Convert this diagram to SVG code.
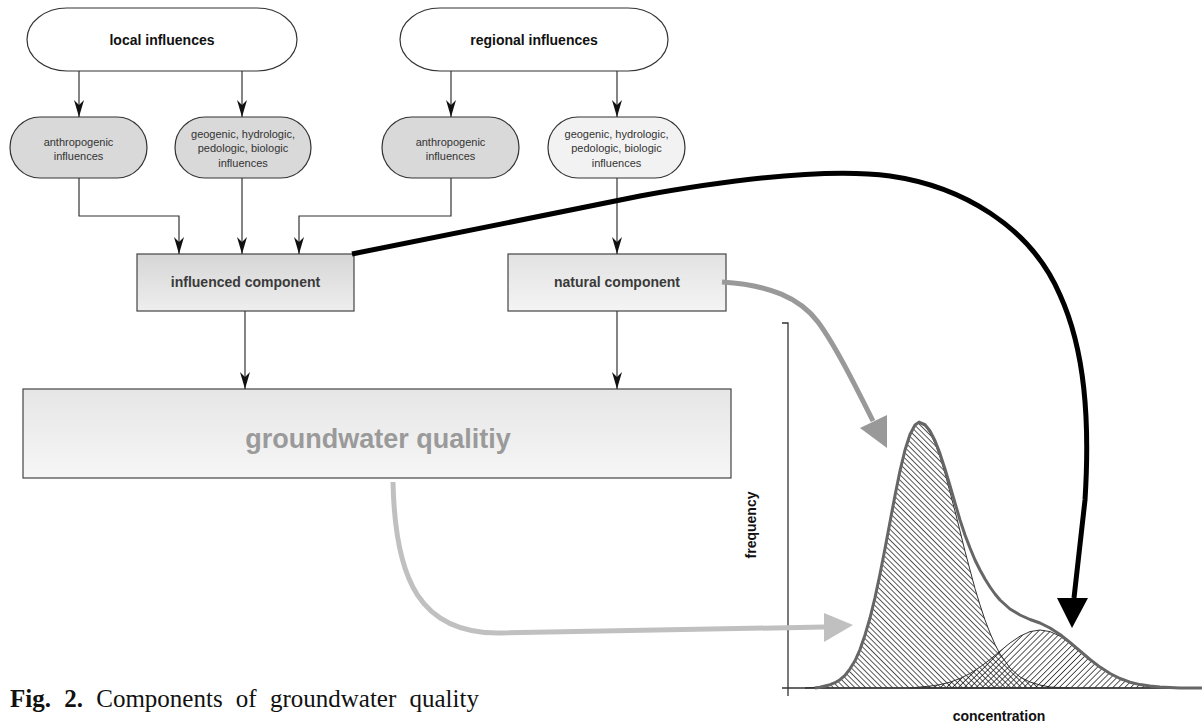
<svg xmlns="http://www.w3.org/2000/svg" width="1202" height="726" viewBox="0 0 1202 726">
<style>
.stad{stroke:#333;stroke-width:1.2}
.box{stroke:#444;stroke-width:1.2}
.t1{font-family:"Liberation Sans",Arial,sans-serif;font-weight:bold;font-size:14px;fill:#111;text-anchor:middle}
.t2{font-family:"Liberation Sans",Arial,sans-serif;font-size:11px;fill:#333;text-anchor:middle}
.t3{font-family:"Liberation Sans",Arial,sans-serif;font-weight:bold;font-size:14px;fill:#3a3a3a;text-anchor:middle}
.ax{font-family:"Liberation Sans",Arial,sans-serif;font-weight:bold;font-size:14px;fill:#111;text-anchor:middle}
.conn{fill:none;stroke:#333;stroke-width:1.2;marker-end:url(#ah)}
.cap{font-family:"Liberation Serif","Times New Roman",serif;font-size:25px;fill:#111;word-spacing:7px}
</style>
<defs>
<marker id="ah" markerUnits="userSpaceOnUse" markerWidth="18" markerHeight="12" viewBox="0 0 18 12" refX="17" refY="6" orient="auto">
<path d="M0,1 L17,6 L0,11 L5,6 Z" fill="#111"/>
</marker>
<linearGradient id="gInf" x1="0" y1="0" x2="0" y2="1"><stop offset="0" stop-color="#d6d6d6"/><stop offset="1" stop-color="#eeeeee"/></linearGradient>
<linearGradient id="gNat" x1="0" y1="0" x2="0" y2="1"><stop offset="0" stop-color="#e2e2e2"/><stop offset="1" stop-color="#f4f4f4"/></linearGradient>
<linearGradient id="gGW" x1="0" y1="0" x2="0" y2="1"><stop offset="0" stop-color="#e6e6e6"/><stop offset="1" stop-color="#f6f6f6"/></linearGradient>
<pattern id="hatchB" patternUnits="userSpaceOnUse" width="3.8" height="3.8" patternTransform="rotate(-45)">
<line x1="0" y1="-1" x2="0" y2="5" stroke="#000" stroke-width="1.3"/>
</pattern>
<pattern id="hatchF" patternUnits="userSpaceOnUse" width="4.2" height="4.2" patternTransform="rotate(45)">
<line x1="0" y1="-1" x2="0" y2="6" stroke="#000" stroke-width="1.3"/>
</pattern>
</defs>
<rect width="1202" height="726" fill="#fff"/>

<g id="local-influences">
<rect class="stad" x="27" y="8" width="270" height="63" rx="40" ry="31.5" fill="#fff"/>
<text class="t1" x="162" y="45">local influences</text>
</g>
<g id="regional-influences">
<rect class="stad" x="400" y="8" width="268" height="63" rx="40" ry="31.5" fill="#fff"/>
<text class="t1" x="534" y="45">regional influences</text>
</g>
<g id="local-anthropogenic">
<rect class="stad" x="10" y="117" width="137" height="61" rx="30" ry="30.5" fill="#d9d9d9"/>
<text class="t2" x="78.5" y="145.5">anthropogenic</text>
<text class="t2" x="78.5" y="160">influences</text>
</g>
<g id="local-geogenic">
<rect class="stad" x="175" y="117" width="136" height="61" rx="30" ry="30.5" fill="#d9d9d9"/>
<text class="t2" x="243" y="137.5">geogenic, hydrologic,</text>
<text class="t2" x="243" y="152">pedologic, biologic</text>
<text class="t2" x="243" y="166.5">influences</text>
</g>
<g id="regional-anthropogenic">
<rect class="stad" x="382" y="117" width="137" height="61" rx="30" ry="30.5" fill="#d9d9d9"/>
<text class="t2" x="450.5" y="145.5">anthropogenic</text>
<text class="t2" x="450.5" y="160">influences</text>
</g>
<g id="regional-geogenic">
<rect class="stad" x="548" y="117" width="137" height="61" rx="30" ry="30.5" fill="#f2f2f2"/>
<text class="t2" x="616.5" y="137.5">geogenic, hydrologic,</text>
<text class="t2" x="616.5" y="152">pedologic, biologic</text>
<text class="t2" x="616.5" y="166.5">influences</text>
</g>
<g id="influenced-component">
<rect class="box" x="137" y="254" width="217" height="57" fill="url(#gInf)"/>
<text class="t3" x="245.5" y="287">influenced component</text>
</g>
<g id="natural-component">
<rect class="box" x="508" y="254" width="218" height="57" fill="url(#gNat)"/>
<text class="t3" x="617" y="287">natural component</text>
</g>
<g id="groundwater-quality">
<rect class="box" x="23" y="389" width="708" height="89" fill="url(#gGW)"/>
<text x="378" y="448" font-family="'Liberation Sans',Arial,sans-serif" font-weight="bold" font-size="27px" fill="#9a9a9a" text-anchor="middle">groundwater qualitiy</text>
</g>

<g id="chart">
<path d="M805 688 L820 687 L825 686 L830 685 L835 682.7 L840 680 L845 675.4 L850 669 L855 660.8 L860 650 L865 635.5 L870 618 L875 597.6 L880 574 L885 548.6 L890 522 L895 495.5 L900 471 L905 450 L910 435 L915 425.4 L919 423 L925 426 L930 433 L935 443.4 L940 457 L945 473.4 L950 492 L955 511.2 L960 531 L965 551.2 L970 570 L975 588.6 L980 605 L985 620 L990 633 L995 644.4 L1000 654 L1010 668 L1020 677 L1030 682 L1040 685 L1050 687 L1060 687.5 L1070 688 Z" fill="url(#hatchB)" stroke="#333" stroke-width="1"/>
<path d="M910 688 L920 687 L930 686.1 L940 684.6 L950 682.2 L960 678.5 L970 673.5 L980 667.1 L990 659.5 L1000 651.2 L1010 643 L1020 636.2 L1030 631.6 L1040 630 L1050 631.6 L1060 636.2 L1070 643 L1080 651.2 L1090 659.5 L1100 667.1 L1110 673.5 L1120 678.5 L1130 682.2 L1140 684.6 L1150 686.1 L1160 687 L1170 687.5 L1180 688 Z" fill="url(#hatchF)" stroke="#333" stroke-width="1"/>
<line x1="782" y1="688" x2="1202" y2="688" stroke="#333" stroke-width="1.5"/>
<polyline points="782,323 788,323 788,696" fill="none" stroke="#333" stroke-width="1.3"/>
<path d="M815 688 L820 687.2 L825 686 L830 684.7 L835 682.7 L840 679.7 L845 675.4 L850 668.8 L855 660.8 L860 649.5 L865 635 L870 618 L875 597.6 L880 574 L885 548.6 L890 522 L895 495.5 L900 470.8 L905 450 L910 434.5 L915 425 L919 422.1 L925 424.6 L930 430.9 L935 440.8 L940 453.6 L945 468.9 L950 485.8 L955 503 L960 520 L965 535 L970 548 L975 560 L980 570 L985 579 L990 587 L995 594 L1000 600 L1010 609 L1020 615 L1030 619.5 L1040 623 L1050 628 L1060 634.5 L1070 642.5 L1080 651 L1090 659.5 L1100 667.1 L1110 673.5 L1120 678.5 L1130 682.2 L1140 684.6 L1150 686.1 L1160 687 L1170 687.6 L1180 688 L1202 688" fill="none" stroke="#666" stroke-width="3" stroke-linejoin="round"/>
<text class="ax" transform="translate(756,525) rotate(-90)">frequency</text>
<text class="ax" x="999" y="721">concentration</text>
</g>

<g id="connectors">
<path class="conn" d="M79 71 V117"/>
<path class="conn" d="M242 71 V117"/>
<path class="conn" d="M451 71 V117"/>
<path class="conn" d="M617 71 V117"/>
<path class="conn" d="M79 178 V216 H179 V254"/>
<path class="conn" d="M242 178 V254"/>
<path class="conn" d="M451 178 V216 H299 V254"/>
<path class="conn" d="M617 178 V254"/>
<path class="conn" d="M245 311 V389"/>
<path class="conn" d="M617 311 V389"/>
<path d="M393 482 C395 580 420 634 500 633 L824 627" fill="none" stroke="#c0c0c0" stroke-width="5"/>
<polygon points="824,613 853,625 824,642" fill="#c0c0c0"/>
<path d="M722 282 C770 285 800 298 818 322 C835 345 855 385 873 421" fill="none" stroke="#999" stroke-width="5"/>
<polygon points="860,428 887,415 887,448" fill="#999"/>
<path d="M352 254 L640 196 C740 178 830 168 890 176 C960 186 1030 225 1060 295 C1085 350 1090 420 1085 500 L1074 598" fill="none" stroke="#000" stroke-width="5"/>
<polygon points="1057,598 1088,598 1072,628" fill="#000"/>
</g>

<g id="caption">
<text class="cap" x="10" y="707"><tspan font-weight="bold">Fig. 2.</tspan> Components of groundwater quality</text>
</g>
</svg>
